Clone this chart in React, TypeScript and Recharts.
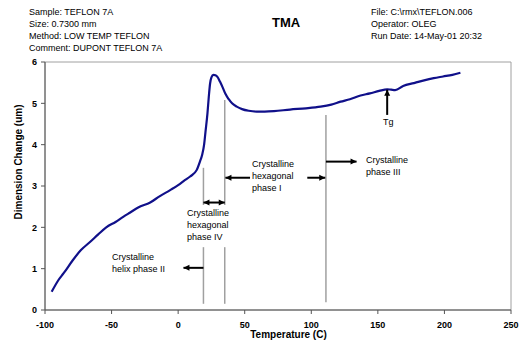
import { LineChart, Line, XAxis, YAxis, ReferenceLine, ReferenceArea } from 'recharts';

// TMA trace (temperature in C, dimension change in um)
const temps = [
  -95, -90, -86, -79, -73, -66, -60, -54, -47, -41, -36, -30, -21, -14, -6, 0, 5, 9, 14, 16.5,
  18, 19.5, 20.5, 22, 23, 24, 25, 26.5, 28, 29.5, 31.5, 33.5, 35.5, 38, 40.5, 44, 48, 53, 59, 65,
  72, 84, 96, 107, 115, 122, 129, 137, 144, 151, 157, 160, 163, 169, 177, 184, 192, 199, 206, 212,
];
const dimension = [
  0.44, 0.72, 0.89, 1.21, 1.45, 1.65, 1.83, 2.0, 2.13, 2.26, 2.36, 2.48, 2.6, 2.75, 2.9, 3.02, 3.14, 3.23, 3.39, 3.6,
  3.75, 4.0, 4.3, 4.75, 5.15, 5.48, 5.63, 5.69, 5.68, 5.64, 5.52, 5.38, 5.23, 5.1, 5.0, 4.92, 4.86, 4.82, 4.8, 4.8,
  4.81, 4.85, 4.88, 4.92, 4.97, 5.04, 5.1, 5.19, 5.24, 5.3, 5.34, 5.33, 5.32, 5.42, 5.49, 5.55, 5.61, 5.65, 5.69, 5.74,
];

const xTicks = [-100, -50, 0, 50, 100, 150, 200, 250];
const yTicks = [0, 1, 2, 3, 4, 5, 6];

const headerLeft = ['Sample: TEFLON 7A', 'Size: 0.7300 mm', 'Method: LOW TEMP TEFLON', 'Comment: DUPONT TEFLON 7A'];
const headerRight = ['File: C:\\rmx\\TEFLON.006', 'Operator: OLEG', 'Run Date: 14-May-01 20:32'];

// phase boundary markers: [temperature, yFrom, yTo]
const boundaries: [number, number, number][] = [
  [19, 3.44, 2.54],
  [19, 1.52, 0.15],
  [35, 5.08, 2.54],
  [35, 1.52, 0.15],
  [111, 4.72, 0.19],
];

// arrows: [xFrom, yFrom, xTo, yTo, doubleHeaded]
const arrows: [number, number, number, number, boolean][] = [
  [19, 2.6, 35, 2.6, true],
  [19, 1.02, 4, 1.02, false],
  [54, 3.2, 35.5, 3.2, false],
  [97, 3.2, 110.5, 3.2, false],
  [111, 3.59, 134, 3.59, false],
  [157, 4.72, 157, 5.33, false],
];

const notes = [
  { lines: ['Crystalline', 'helix phase II'], left: 112, top: 251 },
  { lines: ['Crystalline', 'hexagonal', 'phase IV'], left: 187, top: 207 },
  { lines: ['Crystalline', 'hexagonal', 'phase I'], left: 252, top: 158 },
  { lines: ['Crystalline', 'phase III'], left: 366, top: 154 },
  { lines: ['Tg'], left: 383, top: 116 },
];

const data = temps.map((t, i) => ({ t, d: dimension[i] }));
const font = 'Arial, "Liberation Sans", sans-serif';

function head(x1: number, y1: number, x2: number, y2: number) {
  const a = Math.atan2(y2 - y1, x2 - x1);
  const len = 6;
  const w = 3;
  const bx = x2 - len * Math.cos(a);
  const by = y2 - len * Math.sin(a);
  const px = -Math.sin(a) * w;
  const py = Math.cos(a) * w;
  return `${x2},${y2} ${bx + px},${by + py} ${bx - px},${by - py}`;
}

function arrowShape(both: boolean) {
  return (p: any) => {
    const { x1, y1, x2, y2 } = p;
    return (
      <g>
        <line x1={x1} y1={y1} x2={x2} y2={y2} stroke="#000" strokeWidth={2} />
        <polygon points={head(x1, y1, x2, y2)} fill="#000" />
        {both && <polygon points={head(x2, y2, x1, y1)} fill="#000" />}
      </g>
    );
  };
}

const tickStyle = { fontSize: 9, fontWeight: 'bold', fill: '#000', fontFamily: font };

export default function App() {
  return (
    <div style={{ position: 'absolute', left: 0, top: 0, width: 532, height: 364, background: '#fff', fontFamily: font }}>
      <div style={{ position: 'absolute', left: 29, top: 6, fontSize: 9, lineHeight: '12px', color: '#000' }}>
        {headerLeft.map((s) => (
          <div key={s}>{s}</div>
        ))}
      </div>
      <div style={{ position: 'absolute', left: 272, top: 15, fontSize: 13, fontWeight: 'bold', color: '#000' }}>TMA</div>
      <div style={{ position: 'absolute', left: 371, top: 6, fontSize: 9, lineHeight: '12px', color: '#000' }}>
        {headerRight.map((s) => (
          <div key={s}>{s}</div>
        ))}
      </div>

      <LineChart width={532} height={364} data={data} margin={{ top: 62, right: 21, left: 0, bottom: 24 }}>
        <ReferenceArea x1={-100} x2={250} y1={0} y2={6} fill="none" stroke="#a0a0a0" strokeWidth={1} />
        <XAxis
          type="number"
          dataKey="t"
          domain={[-100, 250]}
          ticks={xTicks}
          interval={0}
          height={30}
          tickSize={4}
          tickMargin={8}
          stroke="#555"
          tick={tickStyle}
        />
        <YAxis
          type="number"
          domain={[0, 6]}
          ticks={yTicks}
          interval={0}
          width={45}
          tickSize={4}
          tickMargin={4}
          stroke="#555"
          tick={tickStyle}
        />
        {boundaries.map(([x, ya, yb], i) => (
          <ReferenceLine
            key={`b${i}`}
            segment={[{ x, y: ya }, { x, y: yb }]}
            stroke="#a0a0a0"
            strokeWidth={1.5}
          />
        ))}
        <Line
          type="monotone"
          dataKey="d"
          stroke="#10108a"
          strokeWidth={2.2}
          dot={false}
          isAnimationActive={false}
        />
        {arrows.map(([xa, ya, xb, yb, both], i) => (
          <ReferenceLine
            key={`a${i}`}
            segment={[{ x: xa, y: ya }, { x: xb, y: yb }]}
            shape={arrowShape(both)}
          />
        ))}
      </LineChart>

      {notes.map((n) => (
        <div
          key={n.lines.join()}
          style={{ position: 'absolute', left: n.left, top: n.top, fontSize: 9, lineHeight: '12px', color: '#000', whiteSpace: 'nowrap' }}
        >
          {n.lines.map((l) => (
            <div key={l}>{l}</div>
          ))}
        </div>
      ))}

      <div style={{ position: 'absolute', left: 0, width: 532, paddingLeft: 45, boxSizing: 'border-box', top: 329, textAlign: 'center', fontSize: 10, fontWeight: 'bold', color: '#000' }}>
        <span style={{ display: 'inline-block', width: 466 }}>Temperature (C)</span>
      </div>
      <div
        style={{
          position: 'absolute',
          left: 18,
          top: 162,
          transform: 'translate(-50%, -50%) rotate(-90deg)',
          fontSize: 10,
          fontWeight: 'bold',
          color: '#000',
          whiteSpace: 'nowrap',
        }}
      >
        Dimension Change (um)
      </div>
    </div>
  );
}
